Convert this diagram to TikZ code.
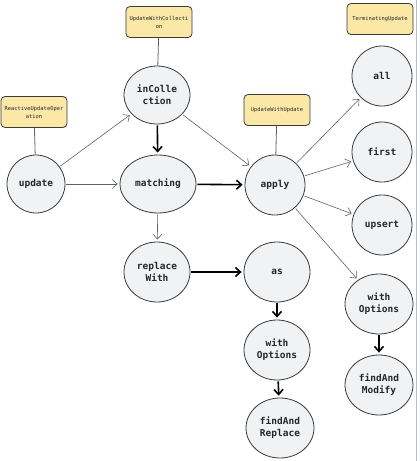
\documentclass[tikz,border=0pt]{standalone}
\usepackage{fontspec}
\setmonofont{DejaVu Sans Mono}
\usetikzlibrary{shapes.geometric,arrows.meta}
\definecolor{nodefill}{HTML}{F1F2F4}
\definecolor{boxfill}{HTML}{FBE7A6}
\definecolor{inkc}{HTML}{3A3A3A}
\definecolor{framec}{HTML}{B8C0CC}
\begin{document}
\begin{tikzpicture}[x=1pt,y=-1pt,
  op/.style={ellipse,draw=inkc,line width=0.8pt,fill=nodefill,inner sep=0pt,
     font=\ttfamily\bfseries\fontsize{9.5}{12}\selectfont,align=center,text=black!85},
  tag/.style={rectangle,rounded corners=4pt,draw=inkc,line width=0.8pt,fill=boxfill,
     inner sep=1pt,minimum width=66pt,minimum height=31pt,text width=64pt,align=center,
     font=\ttfamily\fontsize{5.4}{8}\selectfont,text=black!85},
  thin/.style={draw=inkc!80,line width=0.6pt,-{Straight Barb[length=5pt,width=9pt]},shorten >=2pt,shorten <=1pt},
  thick/.style={draw=black,line width=1.6pt,-{Straight Barb[length=5pt,width=9pt]},shorten >=2pt,shorten <=1pt},
  link/.style={draw=inkc!80,line width=0.8pt}]
\useasboundingbox (0,0) rectangle (420,461);
\draw[framec,line width=0.8pt] (416,0) -- (416,461);
% nodes
\node[op,minimum width=58pt,minimum height=58pt] (update) at (36,184) {update};
\node[op,minimum width=66pt,minimum height=58pt] (incoll) at (157,95) {inColle\\ction};
\node[op,minimum width=76pt,minimum height=58pt] (matching) at (158,184) {matching};
\node[op,minimum width=60pt,minimum height=60pt] (apply) at (275,185) {apply};
\node[op,minimum width=60pt,minimum height=60pt] (all) at (382,76) {all};
\node[op,minimum width=60pt,minimum height=60pt] (first) at (382,152) {first};
\node[op,minimum width=60pt,minimum height=60pt] (upsert) at (382,225) {upsert};
\node[op,minimum width=66pt,minimum height=60pt] (replace) at (157,272) {replace\\With};
\node[op,minimum width=66pt,minimum height=60pt] (as) at (277,272) {as};
\node[op,minimum width=66pt,minimum height=60pt] (withL) at (277,350) {with\\Options};
\node[op,minimum width=68pt,minimum height=60pt] (findrep) at (280,428) {findAnd\\Replace};
\node[op,minimum width=68pt,minimum height=60pt] (withR) at (379,304) {with\\Options};
\node[op,minimum width=68pt,minimum height=60pt] (findmod) at (379,385) {findAnd\\Modify};
% tags
\node[tag] (tagreact) at (34,112) {ReactiveUpdateOper\\ation};
\node[tag] (tagcoll) at (159,22) {UpdateWithCollecti\\on};
\node[tag] (tagupd) at (277,110) {UpdateWithUpdate};
\node[tag] (tagterm) at (380,19) {TerminatingUpdate};
% tag links
\draw[link] (tagreact) -- (update);
\draw[link] (tagcoll) -- (incoll);
\draw[link] (tagupd) -- (apply);
% connectors
\draw[thin] (update) -- (incoll);
\draw[thin] (update) -- (matching);
\draw[thick] (incoll) -- (matching);
\draw[thin] (incoll) -- (apply);
\draw[thick] (matching) -- (apply);
\draw[thin] (matching) -- (replace);
\draw[thick] (replace) -- (as);
\draw[thick] (as) -- (withL);
\draw[thick] (withL) -- (findrep);
\draw[thin] (apply) -- (all);
\draw[thin] (apply) -- (first);
\draw[thin] (apply) -- (upsert);
\draw[thin] (apply) -- (withR);
\draw[thick] (withR) -- (findmod);
\end{tikzpicture}
\end{document}
